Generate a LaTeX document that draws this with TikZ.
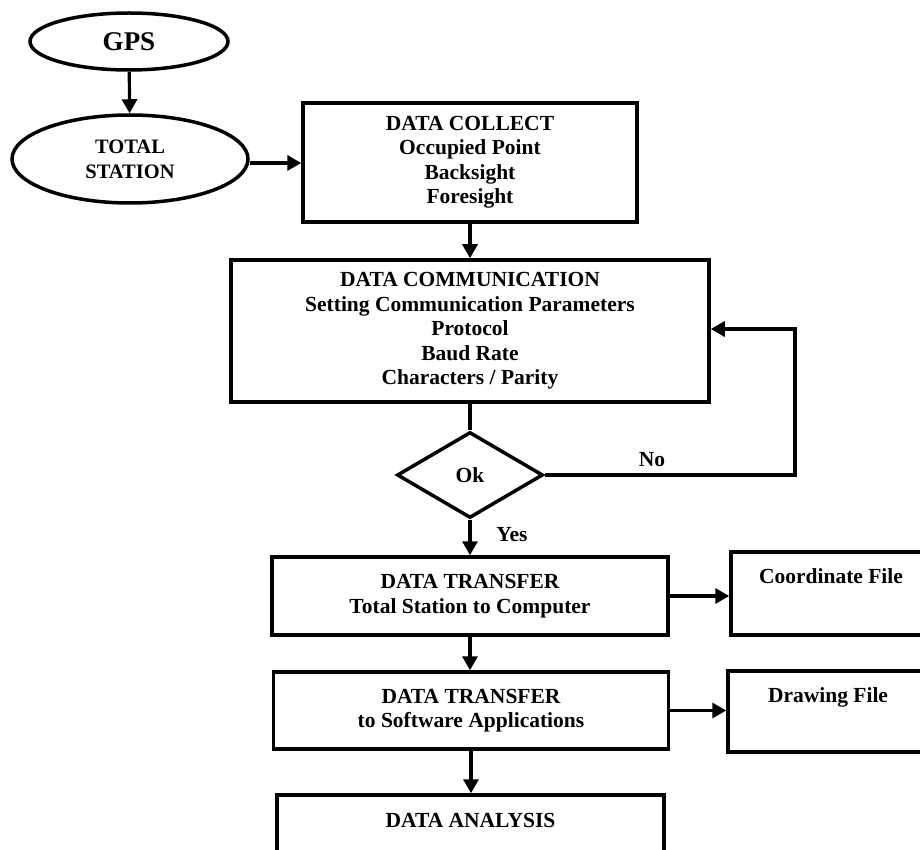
\documentclass[tikz,border=0pt]{standalone}
\usepackage{fontspec}
\setmainfont{Liberation Serif}
\usetikzlibrary{shapes.geometric,arrows.meta}
\begin{document}
\begin{tikzpicture}[x=1pt,y=-1pt,
  every node/.style={font=\bfseries\fontsize{21.5}{24.5}\selectfont, align=center, inner sep=0pt},
  box/.style={draw, line width=3.5pt, rectangle},
  oval/.style={draw, line width=3.5pt, ellipse},
  arr/.style={line width=3.2pt, -{Triangle[length=14pt,width=15pt]}},
  ln/.style={line width=3.2pt}]
\useasboundingbox (0,0) rectangle (920,850);
\clip (0,0) rectangle (920,850);
\node[oval, minimum width=198pt, minimum height=57pt, font=\bfseries\fontsize{27}{30}\selectfont] (gps) at (129,41.5) {GPS};
\node[oval, minimum width=236pt, minimum height=88pt, font=\bfseries\fontsize{20.5}{25}\selectfont] (ts) at (130,159) {TOTAL\\STATION};
\node[box, minimum width=334pt, minimum height=119pt] (dc) at (470,162.5) {DATA COLLECT\\Occupied Point\\Backsight\\Foresight};
\node[box, minimum width=478pt, minimum height=142pt] (dcomm) at (470,331) {DATA COMMUNICATION\\Setting Communication Parameters\\Protocol\\Baud Rate\\Characters / Parity};
\node[draw, diamond, line width=3.5pt, minimum width=146pt, minimum height=86pt] (ok) at (470,475) {Ok};
\node[box, minimum width=396pt, minimum height=78pt] (dt1) at (470,596) {DATA TRANSFER\\Total Station to Computer};
\node[box, minimum width=200pt, minimum height=83pt] (cf) at (831,593.5) {};
\node (cft) at (831,576) {Coordinate File};
\node[box, minimum width=395pt, minimum height=77pt] (dt2) at (471,710.5) {DATA TRANSFER\\to Software Applications};
\node[box, minimum width=200pt, minimum height=81pt] (df) at (828,711.5) {};
\node (dft) at (828,697) {Drawing File};
\node[box, minimum width=387pt, minimum height=90pt] (da) at (470.5,840) {};
\node (dat) at (470.5,820) {DATA ANALYSIS};
\node (no) at (652,460) {No};
\node (yes) at (512,535) {Yes};
\coordinate (fb) at (795,475);
\coordinate (fbtop) at (795,329);
\draw[arr] (gps) -- (ts);
\draw[arr] ([yshift=-4pt]ts.east) -- ([yshift=-4pt]ts.east -| dc.west);
\draw[arr] (dc) -- (dcomm);
\draw[ln] (dcomm) -- (ok);
\draw[arr] (ok) -- (dt1);
\draw[arr] (ok.east) -- (fb) -- (fbtop) -- (fbtop -| dcomm.east);
\draw[arr] (dt1.east) -- (dt1.east -| cf.west);
\draw[arr] (dt1.south) -- (dt1.south |- dt2.north);
\draw[arr] (dt2.east) -- (dt2.east -| df.west);
\draw[arr] (dt2.south) -- (dt2.south |- da.north);
\end{tikzpicture}
\end{document}
